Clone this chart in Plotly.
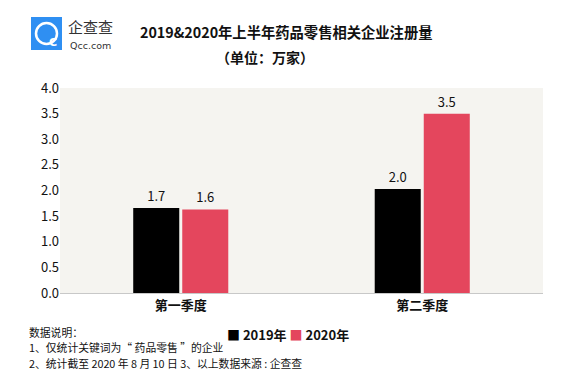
import plotly.graph_objects as go

categories = ["第一季度", "第二季度"]
series_names = ["2019年", "2020年"]
values_2019 = [1.66, 2.03]
values_2020 = [1.63, 3.50]
y_ticks = [0, 0.5, 1.0, 1.5, 2.0, 2.5, 3.0, 3.5, 4.0]

FONT = "Noto Sans CJK SC"
BLACK = "#000000"
RED = "#e4465d"

fig = go.Figure()
for name, vals, col in [(series_names[0], values_2019, BLACK), (series_names[1], values_2020, RED)]:
    fig.add_trace(go.Bar(
        x=categories, y=vals, name=name,
        marker=dict(color=col, line=dict(width=0)),
        texttemplate="%{y:.1f}", textposition="outside",
        textfont=dict(family=FONT, size=13, color="#111"),
        cliponaxis=False,
    ))

fig.update_layout(
    width=580, height=372,
    margin=dict(l=60, r=37, t=88, b=79),
    paper_bgcolor="white", plot_bgcolor="#f5f4f0",
    barmode="group", bargap=0.594, bargroupgap=0.061,
    showlegend=False,
    font=dict(family=FONT, color="#111"),
    xaxis=dict(showline=True, linecolor="#c8c8c8", linewidth=1, ticks="",
               tickfont=dict(family=FONT, size=13, color="#111", weight="bold")),
    yaxis=dict(range=[0, 4.0], tickvals=y_ticks, ticktext=[f"{v:.1f}" for v in y_ticks],
               showgrid=False, zeroline=False, ticks="",
               tickfont=dict(family=FONT, size=13, color="#111")),
)


def px(x):
    return (x - 60) / 483


def py(y):
    return 1 - (y - 88) / 205


ann = [
    dict(text="<b>2019&2020年上半年药品零售相关企业注册量</b>", x=286, y=32, size=14.3),
    dict(text="<b>（单位：万家）</b>", x=265, y=57, size=14),
    dict(text="企查查", x=90, y=27, size=15, color="#333"),
    dict(text="Qcc.com", x=90, y=45, size=9.5, color="#333", family="DejaVu Sans"),
    dict(text=f"<span style='color:{BLACK}'>■</span> <b>{series_names[0]}</b> <span style='color:{RED}'>■</span> <b>{series_names[1]}</b>",
         x=288, y=334, size=13),
]
for a in ann:
    fig.add_annotation(xref="paper", yref="paper", showarrow=False,
                       x=px(a["x"]), y=py(a["y"]),
                       xanchor="center", yanchor="middle", borderpad=0,
                       text=a["text"], font=dict(family=a.get("family", FONT),
                                                 size=a["size"],
                                                 color=a.get("color", "#111")))

notes = ["数据说明：", "1、仅统计关键词为“ 药品零售 ”的企业", "2、统计截至 2020 年 8 月 10 日 3、以上数据来源 : 企查查"]
for txt, yy in zip(notes, [332, 347, 363]):
    fig.add_annotation(xref="paper", yref="paper", showarrow=False,
                       x=px(28), y=py(yy), borderpad=0,
                       xanchor="left", yanchor="middle", text=txt,
                       font=dict(family=FONT, size=10.8, color="#111"))

# logo
fig.add_shape(type="rect", xref="paper", yref="paper",
              x0=px(31), x1=px(62), y0=py(50), y1=py(17),
              fillcolor="#2f8ff2", line=dict(width=0))
fig.add_shape(type="circle", xref="paper", yref="paper",
              x0=px(36), x1=px(57), y0=py(44), y1=py(23),
              fillcolor="rgba(0,0,0,0)", line=dict(color="white", width=2.5))
fig.add_annotation(xref="paper", yref="paper", showarrow=False,
                   x=px(46.5), y=py(33.5), text="<b>C</b>",
                   font=dict(family="DejaVu Sans", size=11, color="white"))

fig.write_html("out.html", config={"displayModeBar": False},
               post_script="document.body.style.margin='0';document.body.style.overflow='hidden';")
